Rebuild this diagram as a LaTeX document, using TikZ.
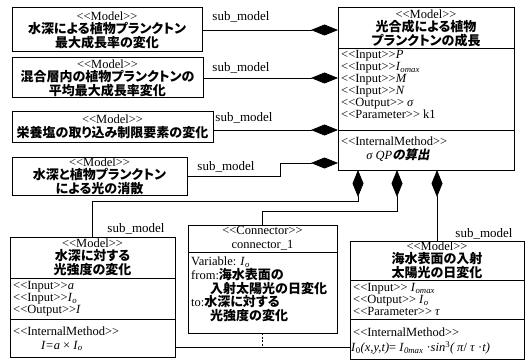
\documentclass[tikz,border=0pt]{standalone}
\usepackage{fontspec}
\setmainfont{Liberation Serif}
\newfontfamily\jpfont{Noto Sans CJK JP}[RawFeature=+palt]
\newfontfamily\jpslfont{Noto Sans CJK JP}[RawFeature=+palt,FakeSlant=0.2]
\usetikzlibrary{arrows.meta}
\newcommand{\J}[1]{{\jpfont\bfseries\fontsize{13}{13.5}\selectfont #1}}
\newcommand{\Jc}[1]{{\jpfont\bfseries\fontsize{13}{12}\selectfont #1}}
\newcommand{\JS}[1]{{\jpslfont\bfseries\fontsize{12.5}{13}\selectfont #1}}
\newcommand{\st}[1]{<\kern0pt<#1>\kern0pt>}
\newcommand{\Io}{\textit{I}\textsubscript{\textit{o}}}
\begin{document}
\begin{tikzpicture}[x=1pt,y=-1pt,
  font=\fontsize{12.5}{13.5}\selectfont,
  box/.style={draw, line width=1pt, anchor=north west, inner sep=0pt, outer sep=0pt, align=center},
  lbl/.style={inner sep=0pt, font=\fontsize{13}{13}\selectfont},
  txt/.style={inner sep=0pt, anchor=north west, align=left},
  ctr/.style={inner sep=0pt, align=center},
  comp/.style={line width=0.8pt, {Diamond[length=27pt,width=11pt]}-},
  div/.style={line width=0.9pt}]
\fill[white] (0,0) rectangle (528,361);
\useasboundingbox (0,0) rectangle (528,361);

% left models
\node[box, minimum width=190pt, minimum height=44pt] (A) at (12,8)
  {\st{Model}\\\J{水深による植物プランクトン}\\\J{最大成長率の変化}};
\node[box, minimum width=191pt, minimum height=40pt] (B) at (12,58)
  {\st{Model}\\\J{混合層内の植物プランクトンの}\\\J{平均最大成長率変化}};
\node[box, minimum width=201pt, minimum height=30pt] (C) at (12,112)
  {\st{Model}\\\J{栄養塩の取り込み制限要素の変化}};
\node[box, minimum width=175pt, minimum height=38pt] (D) at (12,157)
  {\st{Model}\\\J{水深と植物プランクトン}\\\J{による光の消散}};

% main model E
\node[box, minimum width=176pt, minimum height=162pt] (E) at (338,8) {};
\node[ctr] (Eh) at (426,28) {\st{Model}\\\J{光合成による植物}\\\J{プランクトンの成長}};
\draw[div] ([yshift=-40pt]E.north west) -- ([yshift=-40pt]E.north east);
\node[txt, font=\fontsize{12.5}{12}\selectfont] (Ea) at (341,50)
  {\st{Input}\textit{P}\\\st{Input}\textit{I}\textsubscript{\textit{omax}}\\\st{Input}\textit{M}\\\st{Input}\textit{N}\\\st{Output} \textit{σ}\\\st{Parameter} k1};
\draw[div] ([yshift=-122pt]E.north west) -- ([yshift=-122pt]E.north east);
\node[inner sep=0pt, anchor=west] (Em1) at (341,141) {\st{InternalMethod}};
\node[ctr] (Em2) at (398,155) {\textit{σ QP}\JS{の算出}};

% F
\node[box, minimum width=165pt, minimum height=120pt] (F) at (10,237) {};
\node[ctr] (Fh) at (92.5,257) {\st{Model}\\\J{水深に対する}\\\J{光強度の変化}};
\draw[div] ([yshift=-41pt]F.north west) -- ([yshift=-41pt]F.north east);
\node[txt, font=\fontsize{12.5}{12}\selectfont] (Fa) at (13,281)
  {\st{Input}\textit{a}\\\st{Input}\Io\\\st{Output}\textit{I}};
\draw[div] ([yshift=-82pt]F.north west) -- ([yshift=-82pt]F.north east);
\node[inner sep=0pt, anchor=west] (Fm1) at (13,331) {\st{InternalMethod}};
\node[ctr] (Fm2) at (62,346) {\textit{I=a} × \Io};

% G connector
\node[box, minimum width=149pt, minimum height=108pt] (G) at (188,225) {};
\node[ctr] (Gh) at (262.5,238) {\st{Connector}\\connector\_1};
\draw[div] ([yshift=-27pt]G.north west) -- ([yshift=-27pt]G.north east);
\node[txt, font=\fontsize{12.5}{11.8}\selectfont] (Gb) at (191,257)
  {Variable: \Io\\from:\Jc{海水表面の}\\\hspace*{19pt}\Jc{入射太陽光の日変化}\\to:\Jc{水深に対する}\\\hspace*{19pt}\Jc{光強度の変化}};

% H
\node[box, minimum width=174pt, minimum height=118pt] (H) at (350,241) {};
\node[ctr] (Hh) at (437,260) {\st{Model}\\\J{海水表面の入射}\\\J{太陽光の日変化}};
\draw[div] ([yshift=-39pt]H.north west) -- ([yshift=-39pt]H.north east);
\node[txt, font=\fontsize{12.5}{12}\selectfont] (Ha) at (353,283)
  {\st{Input} \textit{I}\textsubscript{\textit{omax}}\\\st{Output} \Io\\\st{Parameter} \textit{τ}};
\draw[div] ([yshift=-78pt]H.north west) -- ([yshift=-78pt]H.north east);
\node[inner sep=0pt, anchor=west] (Hm1) at (353,332) {\st{InternalMethod}};
\node[inner sep=0pt, anchor=west] (Hm2) at (351,348)
  {\textit{I}\textsubscript{0}\textit{(x,y,t)}= \textit{I}\textsubscript{\textit{0max}} ·\textit{sin}\textsuperscript{3}\textit{(}\,\textit{π}/ \textit{τ} ·\textit{t)}};

% composition connectors
\coordinate (eA) at (A.east -| E.west);
\coordinate (eB) at (B.east -| E.west);
\coordinate (eC) at ([yshift=-122pt]E.north west);
\coordinate (eD) at ([yshift=-155pt]E.north west);
\coordinate (e1) at ([xshift=20pt]E.south west);
\coordinate (e2) at ([xshift=59pt]E.south west);
\coordinate (e3) at (E.south west -| H.north);
\coordinate (kD) at (280,0);
\coordinate (kF) at (0,201);
\coordinate (kG) at (0,211);

\draw[comp] (eA) -- (A.east);
\draw[comp] (eB) -- (B.east);
\draw[comp] (eC) -- (eC -| C.east);
\draw[comp] (eD) -- (eD -| kD) |- (D.east);
\draw[comp] (e1) -- (e1 |- kF) -| (F.north);
\draw[comp] (e2) -- (e2 |- kG) -| (G.north);
\draw[comp] (e3) -- (H.north);

\node[lbl] (l1) at (241,17) {sub\_model};
\node[lbl] (l2) at (241,68) {sub\_model};
\node[lbl] (l3) at (244,118) {sub\_model};
\node[lbl] (l4) at (226,167) {sub\_model};
\node[lbl] (l5) at (136,229) {sub\_model};
\node[lbl] (l6) at (484,234) {sub\_model};

% association with connector
\coordinate (fa) at ([yshift=-110pt]F.north east);
\draw[div] (fa) -- (fa -| H.west);
\draw[div, dash pattern=on 2pt off 1.5pt] (G.south) -- (G.south |- fa);
\end{tikzpicture}
\end{document}
